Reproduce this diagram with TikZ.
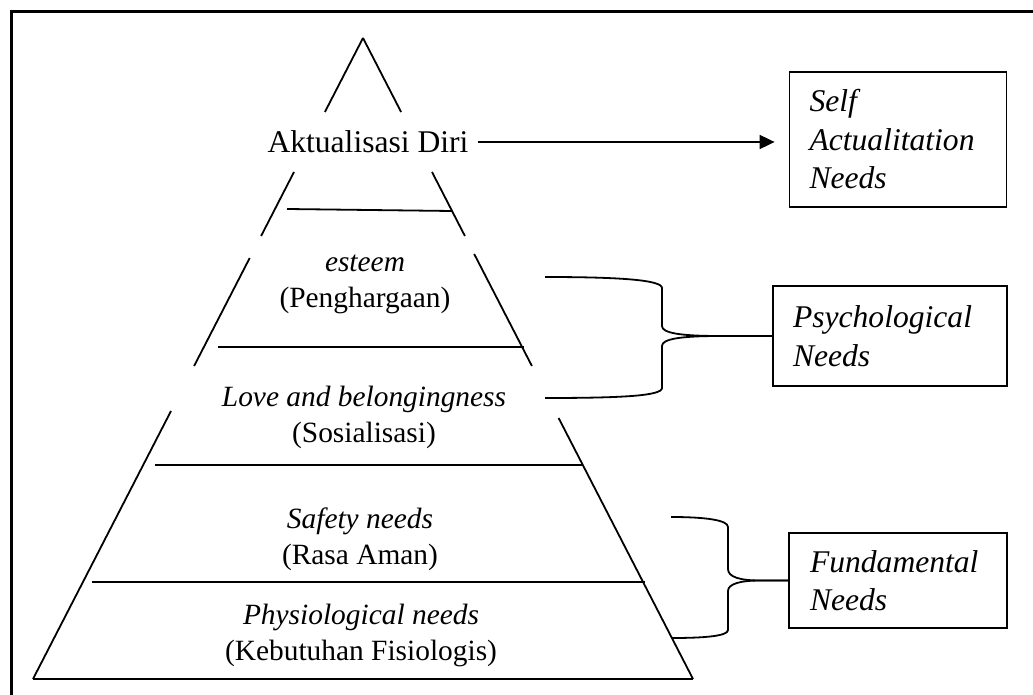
\documentclass[tikz,border=0pt]{standalone}
\usepackage{fontspec}
\setmainfont{Liberation Serif}
\usetikzlibrary{arrows.meta}

\tikzset{
  level/.style={align=center, font=\fontsize{29.4}{36}\selectfont},
  needbox/.style={draw, align=left, inner xsep=20pt, font=\fontsize{31.6}{38.5}\selectfont\itshape},
}

\begin{document}
\begin{tikzpicture}[x=1pt, y=-1pt, line width=1.8pt]
      \useasboundingbox (0,0) rectangle (1033,695);
      \draw[line width=2.4pt] (11.5,700) -- (11.5,11.5) -- (1040,11.5);

      % pyramid corners and breaks
      \coordinate (apex) at (363,38);
      \coordinate (bl) at (33,679);
      \coordinate (br) at (693,679);
      \coordinate (L1) at (324.9,112);
      \coordinate (L2) at (294.0,172);
      \coordinate (L3) at (261.1,236);
      \coordinate (L4) at (249.7,258);
      \coordinate (L5) at (194.1,366);
      \coordinate (L6) at (171.0,411);
      \coordinate (R1) at (401.1,112);
      \coordinate (R2) at (432.0,172);
      \coordinate (R3) at (464.9,236);
      \coordinate (R4) at (474.2,254);
      \coordinate (R5) at (531.9,366);
      \coordinate (R6) at (558.6,418);

      \path [-] (apex) edge (L1);
      \path [-] (L2) edge (L3);
      \path [-] (L4) edge (L5);
      \path [-] (L6) edge (bl);
      \path [-] (apex) edge (R1);
      \path [-] (R2) edge (R3);
      \path [-] (R4) edge (R5);
      \path [-] (R6) edge (br);
      \path [-] (bl) edge (br);

      % levels
      \path [-] (287,209) edge (452,211);
      \path [-] (218,347) edge (524,347);
      \path [-] (155,465) edge (582,465);
      \path [-] (92,582) edge (645,582);

      \node[font=\fontsize{31.6}{38}\selectfont] (aktual) at (368,142) {Aktualisasi Diri};
      \node[level] (esteem) at (365,284) {\textit{esteem}\\(Penghargaan)};
      \node[level] (love) at (364,417) {\textit{Love and belongingness}\\(Sosialisasi)};
      \node[level] (safety) at (360,539) {\textit{Safety needs}\\(Rasa Aman)};
      \node[level] (physio) at (361,635) {\textit{Physiological needs}\\(Kebutuhan Fisiologis)};

      % boxes on the right
      \node[needbox, text width=177pt, minimum height=135pt] (selfbox) at (898,139.5) {Self\\Actualitation\\Needs};
      \node[needbox, text width=194pt, minimum height=100pt] (psybox) at (890,336) {Psychological\\Needs};
      \node[needbox, inner xsep=21pt, text width=176pt, minimum height=95pt] (fundbox) at (898,580.5) {Fundamental\\Needs};

      \draw[-{Triangle[length=15pt,width=14pt]}, shorten <=5pt, shorten >=14pt] (aktual.east) -- (aktual.east -| selfbox.west);

      % braces
      \draw (545,277) .. controls (620,277) and (662,280) .. (662,288) -- (662,326)
            .. controls (662,333) and (680,336) .. (720,336) -- (psybox.west);
      \draw (psybox.west) -- (720,336) .. controls (680,336) and (662,339) .. (662,346)
            -- (662,388) .. controls (662,396) and (620,398) .. (545,398);
      \draw (671,517) .. controls (705,517) and (728,520) .. (728,527) -- (728,569)
            .. controls (728,577) and (740,580.5) .. (760,580.5) -- (fundbox.west);
      \draw (fundbox.west) -- (760,580.5) .. controls (740,580.5) and (728,584) .. (728,591)
            -- (728,630) .. controls (728,636) and (705,638) .. (672,638);
\end{tikzpicture}
\end{document}
